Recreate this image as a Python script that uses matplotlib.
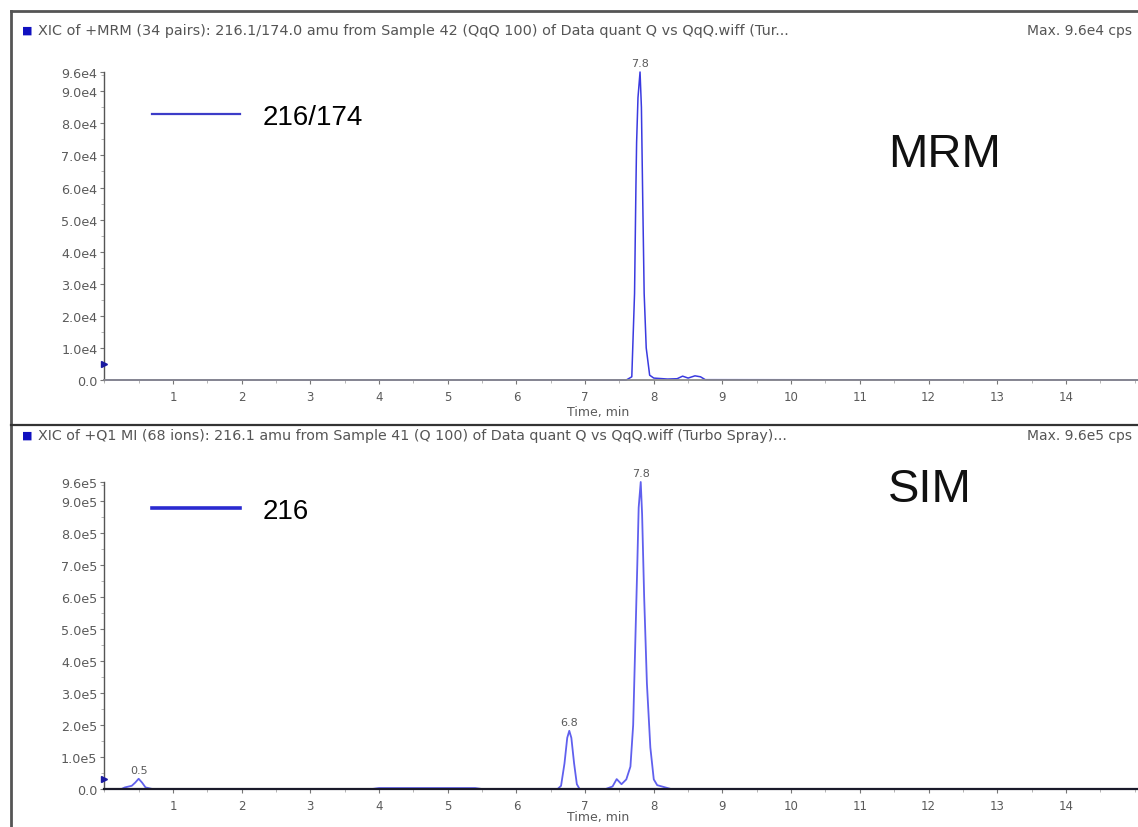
import numpy as np
import matplotlib
matplotlib.use("Agg")
import matplotlib.pyplot as plt
from matplotlib.lines import Line2D
from matplotlib.ticker import MultipleLocator, FixedLocator

plt.rcParams['font.family'] = ['Liberation Sans', 'DejaVu Sans']

# ---------------- data ----------------
# MRM trace 216/174 (time in min, intensity in cps)
mrm_time = [0.0, 7.60, 7.68, 7.72, 7.74, 7.75, 7.77, 7.80, 7.82, 7.84, 7.86, 7.89,
            7.94, 8.00, 8.20, 8.34, 8.42, 8.50, 8.60, 8.68, 8.75, 15.05]
mrm_int = [0, 0, 1000, 27000, 60000, 74000, 88000, 96000, 85000, 55000, 27000, 10000,
           1500, 600, 300, 400, 1200, 600, 1300, 1000, 100, 0]

# SIM trace 216 (time in min, intensity in cps)
sim_time = [0.0, 0.25, 0.30, 0.40, 0.45, 0.50, 0.55, 0.60, 0.70, 3.9, 4.0, 4.6, 5.4, 5.5,
            6.60, 6.65, 6.70, 6.74, 6.77, 6.80, 6.84, 6.88, 6.92,
            7.30, 7.40, 7.46, 7.53, 7.60, 7.66, 7.70, 7.73, 7.76, 7.78, 7.81, 7.83,
            7.86, 7.90, 7.95, 8.00, 8.05, 8.15, 8.25, 15.05]
sim_int = [0, 0, 5000, 10000, 20000, 32000, 20000, 5000, 0, 0, 3000, 3000, 3000, 0,
           0, 10000, 80000, 160000, 182000, 160000, 80000, 15000, 0,
           0, 8000, 31000, 15000, 30000, 70000, 200000, 450000, 700000, 880000, 960000, 860000,
           600000, 330000, 130000, 30000, 12000, 6000, 0, 0]

mrm_peaks = [7.8]
mrm_peak_labels = ["7.8"]
sim_peaks = [0.5, 6.77, 7.81]
sim_peak_labels = ["0.5", "6.8", "7.8"]

x_ticks = list(range(1, 15))
mrm_yticks = [0, 10000, 20000, 30000, 40000, 50000, 60000, 70000, 80000, 90000, 96000]
mrm_ylabels = ["0.0", "1.0e4", "2.0e4", "3.0e4", "4.0e4", "5.0e4", "6.0e4", "7.0e4",
               "8.0e4", "9.0e4", "9.6e4"]
sim_yticks = [0, 100000, 200000, 300000, 400000, 500000, 600000, 700000, 800000,
              900000, 960000]
sim_ylabels = ["0.0", "1.0e5", "2.0e5", "3.0e5", "4.0e5", "5.0e5", "6.0e5", "7.0e5",
               "8.0e5", "9.0e5", "9.6e5"]

mrm_title = ("XIC of +MRM (34 pairs): 216.1/174.0 amu from Sample 42 (QqQ 100) "
             "of Data quant Q vs QqQ.wiff (Tur...")
sim_title = ("XIC of +Q1 MI (68 ions): 216.1 amu from Sample 41 (Q 100) "
             "of Data quant Q vs QqQ.wiff (Turbo Spray)...")
mrm_max = "Max. 9.6e4 cps"
sim_max = "Max. 9.6e5 cps"

# ---------------- figure ----------------
W, H = 1138, 828
fig = plt.figure(figsize=(W / 100, H / 100), dpi=100)
fig.patch.set_facecolor("white")

def fx(px):
    return px / W

def fy(py):
    return 1 - py / H

x_max = 15.05
gray = "#5a5a5a"
small_font = ["DejaVu Sans"]

ax1 = fig.add_axes([fx(104.3), fy(381), 1 - fx(104.3), (381 - 73) / H])
ax2 = fig.add_axes([fx(104.3), fy(790), 1 - fx(104.3), (790 - 483) / H])

def style(ax, yticks, ylabels, ymax, spine_col, spine_lw):
    ax.set_xlim(0, x_max)
    ax.set_ylim(0, ymax)
    for s in ["top", "right"]:
        ax.spines[s].set_visible(False)
    ax.spines["left"].set_color("#555555")
    ax.spines["left"].set_linewidth(1.0)
    ax.spines["bottom"].set_color(spine_col)
    ax.spines["bottom"].set_linewidth(spine_lw)
    ax.xaxis.set_major_locator(FixedLocator(x_ticks))
    ax.xaxis.set_minor_locator(MultipleLocator(0.5))
    ax.set_xticklabels([str(t) for t in x_ticks], family=small_font, fontsize=8.5,
                       color=gray)
    ax.yaxis.set_major_locator(FixedLocator(yticks))
    ax.set_yticklabels(ylabels, family=small_font, fontsize=9.2, color=gray)
    ax.yaxis.set_minor_locator(MultipleLocator(yticks[1] / 2))
    ax.tick_params(axis="both", which="major", direction="out", length=3, width=0.8,
                   color="#777777", pad=2)
    ax.tick_params(axis="both", which="minor", direction="out", length=2, width=0.6,
                   color="#aaaaaa")
    ax.tick_params(axis="x", pad=4)
    ax.set_facecolor("none")

style(ax1, mrm_yticks, mrm_ylabels, 96000, "#8a8a8a", 1.3)
style(ax2, sim_yticks, sim_ylabels, 960000, "#1a1a2a", 1.6)

# traces (drawn beneath the baseline spine)
ax1.plot(mrm_time, mrm_int, color="#3a3ae0", lw=1.1, clip_on=False, zorder=2)
ax2.plot(sim_time, sim_int, color="#6060ee", lw=1.3, clip_on=False, zorder=2)

# peak labels
for ax, t_arr, i_arr, peaks, labels in [(ax1, mrm_time, mrm_int, mrm_peaks, mrm_peak_labels),
                                         (ax2, sim_time, sim_int, sim_peaks, sim_peak_labels)]:
    for p, lab in zip(peaks, labels):
        yv = np.interp(p, t_arr, i_arr)
        ax.annotate(lab, (p, yv), xytext=(0, 3), textcoords="offset points",
                    ha="center", va="bottom", fontsize=8, color=gray,
                    family=small_font, annotation_clip=False)

# left-axis markers
ax1.plot([0], [5000], marker=">", color="#1a1aa0", ms=5, clip_on=False,
         transform=ax1.get_yaxis_transform(), zorder=4)
ax2.plot([0], [30000], marker=">", color="#1a1aa0", ms=5, clip_on=False,
         transform=ax2.get_yaxis_transform(), zorder=4)

# x labels
ax1.set_xlabel("Time, min", fontsize=9, color=gray, family=small_font)
ax1.xaxis.set_label_coords((598 - 104.3) / (W - 104.3), -(406 - 381) / (381 - 73))
ax2.set_xlabel("Time, min", fontsize=9, color=gray, family=small_font)
ax2.xaxis.set_label_coords((598 - 104.3) / (W - 104.3), -(811 - 790) / (790 - 483))

# legends
ax1.legend([Line2D([], [], color="#3c3cc8", lw=1.6)], ["216/174"],
           loc="center left", bbox_to_anchor=(fx(152), fy(118)),
           bbox_transform=fig.transFigure, frameon=False, fontsize=20,
           handlelength=3.17, handletextpad=0.8, borderpad=0, borderaxespad=0)
ax2.legend([Line2D([], [], color="#2a2ad0", lw=2.6)], ["216"],
           loc="center left", bbox_to_anchor=(fx(152), fy(512)),
           bbox_transform=fig.transFigure, frameon=False, fontsize=20,
           handlelength=3.17, handletextpad=0.8, borderpad=0, borderaxespad=0)

# big labels
fig.text(fx(888), fy(155), "MRM", fontsize=34, ha="left", va="center", color="#111111")
fig.text(fx(888), fy(490), "SIM", fontsize=34, ha="left", va="center", color="#111111")

# panel titles (font size fitted so the text spans the same width as the reference)
renderer = fig.canvas.get_renderer()
for y_px, title, mx in [(31, mrm_title, mrm_max), (436, sim_title, sim_max)]:
    fig.text(fx(27), fy(y_px), "\u25A0", fontsize=8, color="#1010c0", ha="center",
             va="center", family=["DejaVu Sans"])
    t = fig.text(fx(38), fy(y_px), title, fontsize=10, color="#555555", ha="left",
                 va="center", family=small_font)
    w = t.get_window_extent(renderer).width
    t.set_fontsize(10 * (787 - 38) / w)
    fig.text(fx(1027), fy(y_px), mx, fontsize=10, color="#555555", ha="left",
             va="center", family=small_font)

# frame lines
fig.add_artist(Line2D([fx(11), fx(11)], [fy(12), 0], color="#555555", lw=2.0,
                      transform=fig.transFigure))
fig.add_artist(Line2D([fx(11), 1], [fy(12), fy(12)], color="#555555", lw=2.0,
                      transform=fig.transFigure))
fig.add_artist(Line2D([fx(11), 1], [fy(426), fy(426)], color="#333333", lw=1.6,
                      transform=fig.transFigure))

fig.savefig("out.png", dpi=100, facecolor="white")
